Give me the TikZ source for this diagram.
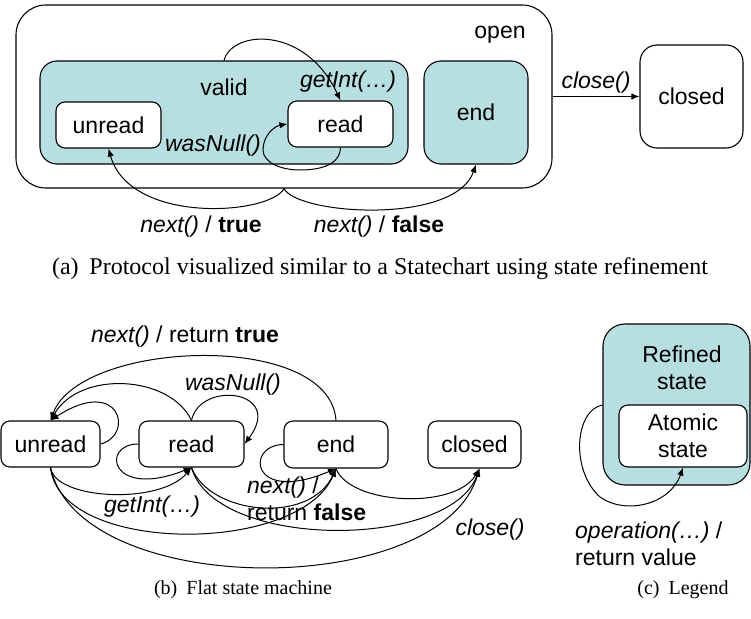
\documentclass[tikz,border=0pt]{standalone}
\usepackage{fontspec}
\setmainfont{Liberation Serif}
\newfontfamily\arialfont{Liberation Sans}
\usetikzlibrary{arrows.meta}
\definecolor{statefill}{RGB}{183,222,224}
\begin{document}
\begin{tikzpicture}[x=1pt,y=-1pt,
  lbl/.style={font=\arialfont\fontsize{23}{27}\selectfont, inner sep=0pt},
  stbox/.style={lbl, draw, line width=1.1pt, fill=white, rounded corners=9pt},
  bigbox/.style={lbl, draw, line width=1.1pt, fill=statefill, rounded corners=17pt},
  trans/.style={line width=1pt, -{Latex[length=8pt,width=6.5pt]}},
  caption/.style={font=\fontsize{20}{24}\selectfont, inner sep=0pt}]
\useasboundingbox (0,0) rectangle (751,618);

% ---------- (a) hierarchical protocol ----------
\node[lbl, draw, line width=1.1pt, rounded corners=30pt,
      minimum width=536pt, minimum height=183pt] (open) at (284,96.5) {};
\node[lbl] (openlbl) at (500,35) {open};
\node[bigbox, minimum width=368pt, minimum height=103pt] (valid) at (224,112.5) {};
\node[lbl] (validlbl) at (224,87) {valid};
\node[stbox, minimum width=105pt, minimum height=46pt] (unreadA) at (108.5,125) {unread};
\node[stbox, minimum width=105pt, minimum height=46pt] (readA) at (340.5,124) {read};
\node[bigbox, minimum width=104pt, minimum height=103pt] (endA) at (476,112.5) {end};
\node[stbox, rounded corners=17pt, minimum width=103pt, minimum height=103pt] (closedA) at (691.5,96.5) {closed};

\node[lbl] (getintA) at (348,82) {\itshape getInt(…)};
\node[lbl] (wasnullA) at (213,146) {\itshape wasNull()};
\node[lbl] (closeA) at (596,83) {\itshape close()};
\node[lbl] (nexttrue) at (201,227) {\textit{next()} / \textbf{true}};
\node[lbl] (nextfalse) at (379,227) {\textit{next()} / \textbf{false}};

\draw[trans] (valid.north) .. controls (232,30) and (305,25) .. (readA.north);
\draw[trans] (readA.south) .. controls (340,165) and (320,170) .. (300,170)
  .. controls (280,170) and (263,162) .. (263,150)
  .. controls (263,135) and (275,126) .. (readA.west);
\draw[trans] (open.east) -- (closedA.west);
\draw[trans] (open.south) .. controls (270,215) and (130,225) .. (unreadA.south);
\draw[trans] (open.south) .. controls (298,215) and (455,225) .. (endA.south);

\node[caption, font=\fontsize{24}{28}\selectfont] (capa) at (380,269) {(a)\hspace{0.45em}Protocol visualized similar to a Statechart using state refinement};

% ---------- (b) flat state machine ----------
\node[stbox, minimum width=99pt, minimum height=46pt] (unreadB) at (50.5,444) {unread};
\node[stbox, minimum width=105pt, minimum height=46pt] (readB) at (191.5,444) {read};
\node[stbox, minimum width=104pt, minimum height=47pt] (endB) at (336,444.5) {end};
\node[stbox, minimum width=93pt, minimum height=47pt] (closedB) at (474.5,444.5) {closed};

\node[lbl] (nextrettrue) at (185,337) {\textit{next()} / return \textbf{true}};
\node[lbl] (wasnullB) at (233,385) {\itshape wasNull()};
\node[lbl] (getintB) at (152,507) {\itshape getInt(…)};
\node[lbl, align=left, anchor=west] (nextretfalse) at (247,498.5) {\textit{next()} /\\return \textbf{false}};
\node[lbl] (closeB) at (490,530) {\itshape close()};

\coordinate (closedin) at ([xshift=5pt]closedB.south);

\draw[trans] (endB.north) .. controls (330,330) and (80,340) .. (unreadB.north);
\draw[trans] (readB.north) .. controls (170,375) and (80,370) .. (unreadB.north);
\draw[trans] (unreadB.east) .. controls (135,435) and (120,375) .. (unreadB.north);
\draw[trans] (readB.north) .. controls (200,380) and (285,390) .. (readB.east);
\draw[trans] (readB.west) .. controls (100,444) and (110,500) .. (readB.south);
\draw[trans] (unreadB.south) .. controls (55,500) and (160,505) .. (readB.south);
\draw[trans] (unreadB.south) .. controls (60,555) and (300,555) .. (endB.south);
\draw[trans] (unreadB.south) .. controls (80,600) and (440,600) .. (closedin);
\draw[trans] (readB.south) .. controls (210,515) and (310,525) .. (endB.south);
\draw[trans] (readB.south) .. controls (215,550) and (450,550) .. (closedin);
\draw[trans] (endB.west) .. controls (245,445) and (250,505) .. (endB.south);
\draw[trans] (endB.south) .. controls (350,505) and (455,510) .. (closedin);

\node[caption] (capb) at (243,590) {(b)\hspace{0.45em}Flat state machine};

% ---------- (c) legend ----------
\node[bigbox, rounded corners=22pt, minimum width=147pt, minimum height=161pt] (refined) at (676.5,404.5) {};
\node[lbl, align=center] (refinedlbl) at (682,367.5) {Refined\\state};
\node[stbox, minimum width=128pt, minimum height=62pt, align=center] (atomic) at (683,436) {Atomic\\state};
\coordinate (refout) at (refined.west |- 0,405);
\draw[trans] (refout) .. controls (575,410) and (570,470) .. (600,497)
  .. controls (625,515) and (670,505) .. (atomic.south);
\node[lbl, align=left, anchor=west] (oplbl) at (575,543.5) {\textit{operation(…)} /\\return value};

\node[caption] (capc) at (683,590) {(c)\hspace{0.45em}Legend};
\end{tikzpicture}
\end{document}
